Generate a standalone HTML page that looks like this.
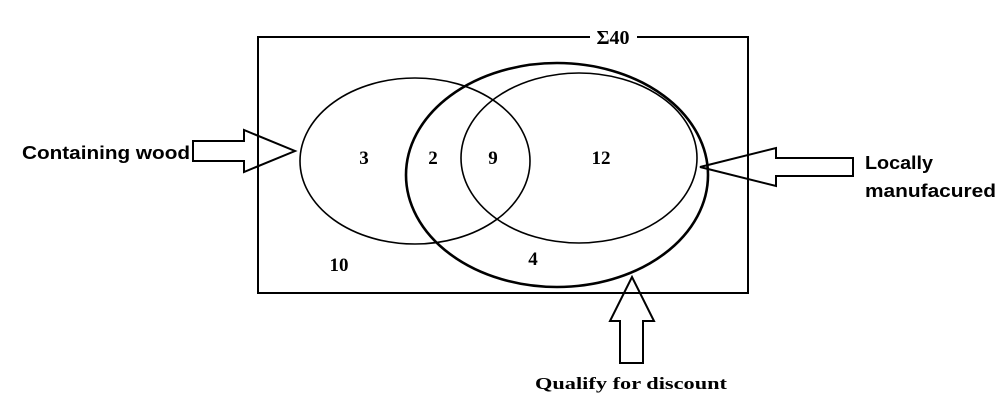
<!DOCTYPE html>
<html><head><meta charset="utf-8"><style>html,body{margin:0;padding:0;background:#fff}svg{display:block}</style></head>
<body>
<svg width="1002" height="405" viewBox="0 0 1002 405" xmlns="http://www.w3.org/2000/svg">
<g fill="none" stroke="#000">
<path d="M590 37 H258 V293 H748 V37 H637" stroke-width="2"/>
<ellipse cx="415" cy="161" rx="115" ry="83" stroke-width="1.6"/>
<ellipse cx="579" cy="158" rx="118" ry="85" stroke-width="1.6"/>
<ellipse cx="557" cy="175" rx="151" ry="112" stroke-width="2.6"/>
<polygon points="193,141 244,141 244,130 295,151 244,172 244,161 193,161" stroke-width="2"/>
<polygon points="700,167 776,148 776,158 853,158 853,176 776,176 776,186" stroke-width="2"/>
<polygon points="632,277 654,321 643,321 643,363 620,363 620,321 610,321" stroke-width="2"/>
</g>
<g font-family="Liberation Serif, serif" font-weight="bold" font-size="19" text-anchor="middle">
<text x="613" y="44" font-size="20">Σ40</text>
<text x="364" y="164">3</text>
<text x="433" y="164">2</text>
<text x="493" y="164">9</text>
<text x="601" y="164">12</text>
<text x="339" y="271">10</text>
<text x="533" y="265">4</text>
<text x="631" y="389" font-size="17" textLength="192" lengthAdjust="spacingAndGlyphs">Qualify for discount</text>
</g>
<g font-family="Liberation Sans, sans-serif" font-weight="bold" font-size="18">
<text x="22" y="159" textLength="168" lengthAdjust="spacingAndGlyphs">Containing wood</text>
<text x="865" y="169" textLength="68" lengthAdjust="spacingAndGlyphs">Locally</text>
<text x="865" y="197" textLength="131" lengthAdjust="spacingAndGlyphs">manufacured</text>
</g>
</svg>
</body></html>
